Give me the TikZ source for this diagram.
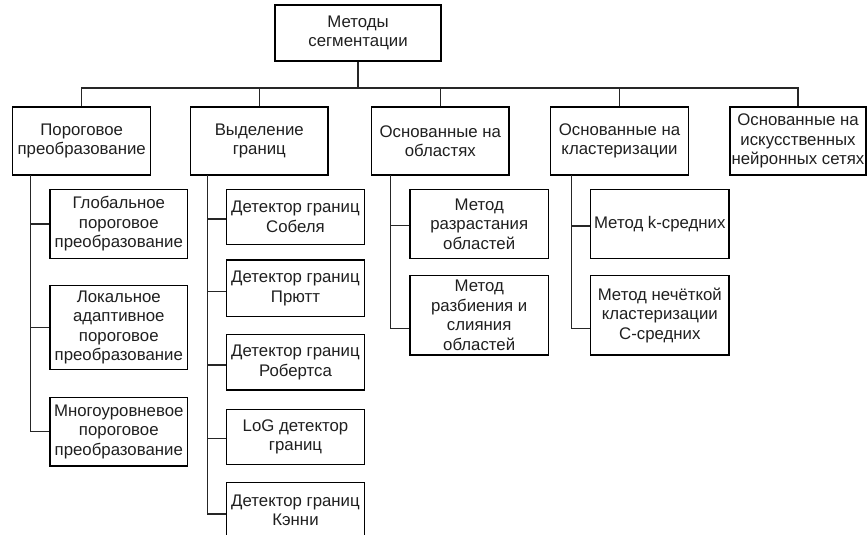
\documentclass[tikz,border=0pt]{standalone}
\usepackage{fontspec}
\setmainfont{Liberation Sans}
\begin{document}
\begin{tikzpicture}[x=1pt,y=-1pt,
  box/.style={draw=black, line width=1.2pt, rectangle, inner sep=0pt, align=center,
    text=black!88, font=\fontsize{16.8}{19.5}\selectfont},
  link/.style={draw=black!85, line width=1.2pt}]
\useasboundingbox (0,0) rectangle (867,535);
\clip (0,0) rectangle (867,535);
% top
\node[box, minimum width=166pt, minimum height=56pt] (top) at (358,33) {Методы\\сегментации};
% level 1
\node[box, minimum width=138pt, minimum height=68pt] (b1) at (81.7,141) {Пороговое\\преобразование};
\node[box, minimum width=137.3pt, minimum height=68pt] (b2) at (259.3,141) {Выделение\\границ};
\node[box, minimum width=137.3pt, minimum height=68pt] (b3) at (440.3,141) {Основанные на\\областях};
\node[box, minimum width=137.6pt, minimum height=68pt] (b4) at (619.5,141) {Основанные на\\кластеризации};
\node[box, minimum width=136pt, minimum height=68pt] (b5) at (798,141) {Основанные на\\искусственных\\нейронных сетях};
% column 1
\node[box, minimum width=137.7pt, minimum height=69.4pt] (g1) at (118.8,224) {Глобальное\\пороговое\\преобразование};
\node[box, minimum width=137.7pt, minimum height=84pt] (g2) at (118.8,327.3) {Локальное\\адаптивное\\пороговое\\преобразование};
\node[box, minimum width=137.7pt, minimum height=68.7pt] (g3) at (118.8,431.7) {Многоуровневое\\пороговое\\преобразование};
% column 2
\node[box, minimum width=137.6pt, minimum height=55.4pt] (s1) at (295.5,217) {Детектор границ\\Собеля};
\node[box, minimum width=137.6pt, minimum height=56.7pt] (s2) at (295.5,288.3) {Детектор границ\\Прютт};
\node[box, minimum width=137.6pt, minimum height=55.3pt] (s3) at (295.5,362.3) {Детектор границ\\Робертса};
\node[box, minimum width=137.6pt, minimum height=55.4pt] (s4) at (295.5,437) {LoG детектор\\границ};
\node[box, minimum width=137.6pt, minimum height=55.3pt] (s5) at (295.5,510.3) {Детектор границ\\Кэнни};
% column 3
\node[box, minimum width=138.3pt, minimum height=69.4pt] (r1) at (479.2,224) {Метод\\разрастания\\областей};
\node[box, minimum width=138.3pt, minimum height=79.7pt] (r2) at (479.2,315.2) {Метод\\разбиения и\\слияния\\областей};
% column 4
\node[box, minimum width=138.3pt, minimum height=69.4pt] (k1) at (659.8,224) {Метод k-средних};
\node[box, minimum width=138.3pt, minimum height=79.7pt] (k2) at (659.8,315.2) {Метод нечёткой\\кластеризации\\С-средних};
% bus
\coordinate (bus) at (0,88);
\draw[link] (top.south) -- (top.south |- bus);
\draw[link] (b1.north) -- (b1.north |- bus) -- (b5.north |- bus) -- (b5.north);
\draw[link] (b2.north) -- (b2.north |- bus);
\draw[link] (b3.north) -- (b3.north |- bus);
\draw[link] (b4.north) -- (b4.north |- bus);
% attachment points
\coordinate (ps1) at ([yshift=-2pt]s1.west);
\coordinate (ps2) at ([yshift=-3.4pt]s2.west);
\coordinate (ps3) at ([yshift=-2.7pt]s3.west);
\coordinate (ps4) at ([yshift=-1.3pt]s4.west);
\coordinate (ps5) at ([yshift=-3.7pt]s5.west);
\coordinate (pr1) at ([yshift=-1.7pt]r1.west);
\coordinate (pr2) at ([yshift=-13pt]r2.west);
\coordinate (pk1) at ([yshift=-2pt]k1.west);
\coordinate (pk2) at ([yshift=-13pt]k2.west);
% trunks
\coordinate (v1) at (30.7,175);
\coordinate (v2) at (207.3,175);
\coordinate (v3) at (390.7,175);
\coordinate (v4) at (571.7,175);
\draw[link] (v1) |- (g3.west);
\draw[link] (v1 |- g1.west) -- (g1.west);
\draw[link] (v1 |- g2.west) -- (g2.west);
\draw[link] (v2) |- (ps5);
\draw[link] (v2 |- ps1) -- (ps1);
\draw[link] (v2 |- ps2) -- (ps2);
\draw[link] (v2 |- ps3) -- (ps3);
\draw[link] (v2 |- ps4) -- (ps4);
\draw[link] (v3) |- (pr2);
\draw[link] (v3 |- pr1) -- (pr1);
\draw[link] (v4) |- (pk2);
\draw[link] (v4 |- pk1) -- (pk1);
\end{tikzpicture}
\end{document}
